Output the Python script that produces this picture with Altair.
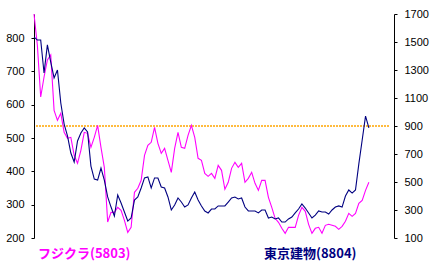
import altair as alt
import pandas as pd

# フジクラ(5803) - left axis
fujikura = [872, 779, 623, 683, 734, 749, 583, 553, 574, 517,
            499, 502, 448, 424, 463, 517, 514, 472, 502, 538,
            472, 412, 248, 277, 277, 292, 283, 253, 217, 232,
            337, 349, 373, 448, 478, 487, 532, 484, 454, 469,
            433, 397, 469, 517, 472, 469, 508, 538, 502, 439,
            433, 394, 385, 394, 379, 418, 403, 346, 367, 409,
            427, 412, 424, 367, 379, 397, 364, 343, 373, 373,
            322, 292, 259, 247, 229, 214, 232, 232, 232, 268,
            292, 280, 241, 214, 229, 232, 214, 238, 241, 238,
            235, 226, 235, 250, 274, 265, 274, 304, 313, 343,
            367]

# 東京建物(8804) - right axis
tokyo = [1536, 1514, 1514, 1279, 1479, 1357, 1243, 1300, 1064, 914,
         829, 707, 643, 793, 850, 886, 857, 614, 521, 514,
         600, 514, 393, 321, 257, 407, 350, 286, 221, 243,
         371, 393, 457, 529, 536, 457, 529, 529, 464, 457,
         393, 300, 336, 386, 357, 321, 336, 386, 429, 371,
         329, 293, 279, 307, 307, 329, 329, 329, 357, 386,
         393, 379, 386, 321, 293, 293, 293, 279, 300, 300,
         243, 250, 236, 243, 214, 214, 236, 250, 279, 307,
         343, 314, 279, 243, 264, 293, 286, 286, 271, 300,
         321, 329, 321, 400, 443, 421, 443, 629, 800, 971,
         886]

weeks = list(range(len(fujikura)))
names = ["フジクラ(5803)", "東京建物(8804)"]
left_ticks = [200, 300, 400, 500, 600, 700, 800]
right_ticks = [100, 300, 500, 700, 900, 1100, 1300, 1500, 1700]
ref_level = [900]

df = pd.DataFrame({"week": weeks, "fujikura": fujikura, "tokyo": tokyo})

xenc = alt.X("week:Q", scale=alt.Scale(domain=[0, 107.5], nice=False, zero=False), axis=None)

axis_style = dict(title=None, grid=False, domainColor="black", tickColor="black",
                  labelColor="black", labelFont="Liberation Sans", labelFontSize=11,
                  tickSize=3, labelPadding=7, domainWidth=1, tickWidth=1, format="d")

left = alt.Chart(df).mark_line(color="#FF00FF", strokeWidth=1.1).encode(
    x=xenc,
    y=alt.Y("fujikura:Q", scale=alt.Scale(domain=[200, 872], nice=False, zero=False),
            axis=alt.Axis(values=left_ticks, orient="left", **axis_style)),
)

right = alt.Chart(df).mark_line(color="#000080", strokeWidth=1.1).encode(
    x=xenc,
    y=alt.Y("tokyo:Q", scale=alt.Scale(domain=[100, 1700], nice=False, zero=False),
            axis=alt.Axis(values=right_ticks, orient="right", **axis_style)),
)

rule = alt.Chart(pd.DataFrame({"level": ref_level})).mark_rule(
    color="#FFA500", strokeDash=[2, 1], strokeWidth=1.3
).encode(
    y=alt.Y("level:Q", scale=alt.Scale(domain=[100, 1700], nice=False, zero=False), axis=None),
    x=alt.value(2), x2=alt.value(355),
)

t1 = alt.Chart(pd.DataFrame({"name": [names[0]]})).mark_text(
    align="left", baseline="middle", font="Noto Sans CJK JP", fontSize=13,
    fontWeight="bold", color="#FF00FF"
).encode(text="name:N", x=alt.value(4), y=alt.value(240))

t2 = alt.Chart(pd.DataFrame({"name": [names[1]]})).mark_text(
    align="left", baseline="middle", font="Noto Sans CJK JP", fontSize=13,
    fontWeight="bold", color="#000080"
).encode(text="name:N", x=alt.value(230), y=alt.value(240))

chart = alt.layer(rule, left, right, t1, t2).resolve_scale(y="independent").properties(
    width=360, height=224,
    padding={"left": 34, "top": 14, "right": 40, "bottom": 36},
    autosize=alt.AutoSizeParams(type="none"),
    background="white",
).configure_view(stroke=None)

chart.save("out.html", embed_options={"renderer": "svg", "actions": False})
